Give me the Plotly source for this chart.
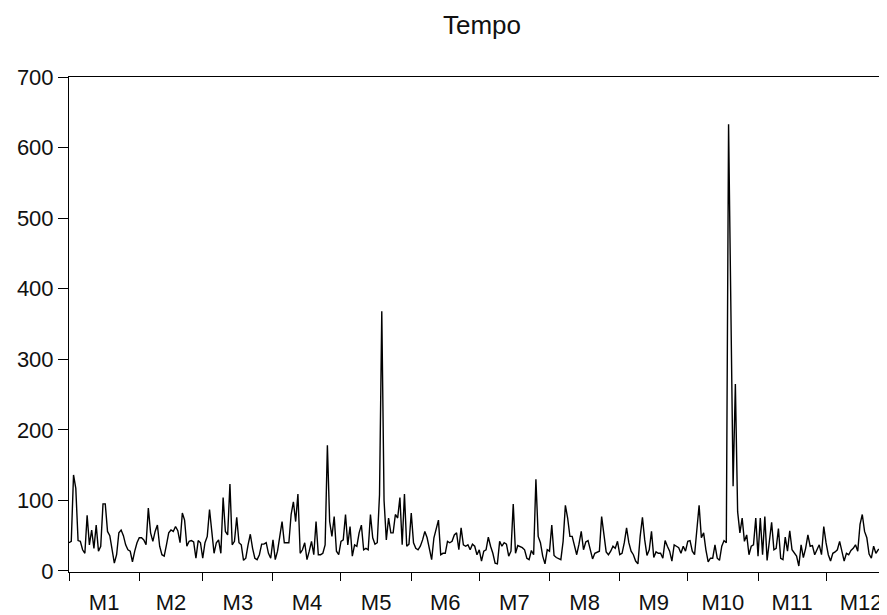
import numpy as np
import plotly.graph_objects as go

month_labels = ["M1", "M2", "M3", "M4", "M5", "M6", "M7", "M8", "M9", "M10", "M11", "M12"]
month_days = [31, 28, 31, 30, 31, 30, 31, 31, 30, 31, 30, 31]

tempo = [
    # M1 / M2 (days 0-60)
    40, 42, 136, 117, 43, 42, 30, 25, 79, 37, 58, 32, 65, 28, 35, 95, 95, 56, 50, 28,
    11, 23, 54, 58, 50, 37, 30, 28, 13, 28, 40, 47, 47, 44, 37, 89, 54, 42, 56, 65,
    35, 23, 21, 37, 54, 58, 56, 63, 57, 40, 82, 72, 35, 42, 43, 41, 18, 43, 40, 18,
    40,
    # days 61-120
    49, 87, 56, 25, 40, 44, 25, 104, 56, 51, 123, 37, 42, 76, 40, 37, 15, 18, 37, 52,
    32, 18, 16, 23, 38, 38, 40, 25, 18, 44, 16, 28, 49, 70, 40, 40, 40, 80, 98, 70,
    109, 25, 30, 40, 16, 28, 42, 23, 70, 23, 23, 25, 37, 178, 70, 49, 77, 28, 23, 42,
    # days 121-182
    44, 80, 37, 63, 21, 37, 35, 54, 65, 30, 32, 30, 80, 47, 38, 40, 108, 368, 100, 44,
    75, 54, 54, 80, 75, 104, 37, 109, 35, 38, 82, 40, 32, 30, 35, 44, 56, 47, 30, 16,
    47, 61, 72, 23, 25, 25, 42, 40, 42, 51, 54, 30, 61, 37, 35, 37, 30, 38, 35, 23,
    30, 14,
    # days 183-243
    28, 30, 48, 35, 25, 11, 10, 42, 35, 40, 38, 21, 28, 95, 25, 36, 35, 33, 30, 18,
    16, 29, 23, 130, 49, 40, 21, 10, 30, 28, 65, 22, 19, 18, 16, 42, 93, 75, 49, 49,
    37, 23, 38, 56, 30, 41, 43, 28, 17, 25, 27, 28, 77, 54, 27, 23, 28, 35, 32, 42,
    23,
    # days 244-302
    25, 40, 61, 40, 28, 23, 14, 10, 49, 76, 44, 22, 30, 56, 19, 27, 25, 25, 18, 43,
    35, 28, 14, 37, 35, 33, 25, 35, 28, 42, 43, 28, 23, 61, 93, 47, 54, 30, 13, 18,
    18, 37, 18, 15, 35, 43, 40, 633, 380, 120, 265, 84, 54, 75, 42, 51, 23, 35, 37,
    # days 303-360
    75, 21, 75, 23, 77, 15, 47, 69, 30, 32, 60, 18, 16, 48, 28, 57, 30, 25, 21, 7,
    37, 19, 32, 51, 35, 36, 23, 30, 37, 23, 63, 40, 23, 14, 25, 27, 30, 42, 28, 14,
    25, 23, 29, 32, 37, 28, 66, 80, 56, 47, 24, 18, 35, 25, 30, 32, 51, 55,
]

y_ticks = [0, 100, 200, 300, 400, 500, 600, 700]

bounds = np.concatenate([[0], np.cumsum(month_days)])
mids = (bounds[:-1] + bounds[1:]) / 2.0
day = np.arange(len(tempo))

font_family = "Liberation Sans, Arial, sans-serif"
x_range = [0, 360.9]

# the page body adds an 8px offset; figure sized so it ends at the window edge
W, H = 879, 607
ML, MT, MB = 61, 69, 41

fig = go.Figure()
fig.add_trace(go.Scatter(
    x=day, y=tempo, mode="lines",
    line=dict(color="#000000", width=1.4),
    xaxis="x", yaxis="y", showlegend=False, hoverinfo="skip",
))
fig.add_trace(go.Scatter(
    x=mids, y=[0] * len(mids), mode="markers",
    marker=dict(opacity=0, size=1),
    xaxis="x2", yaxis="y", showlegend=False, hoverinfo="skip",
))

fig.update_layout(
    width=W, height=H,
    margin=dict(l=ML, r=0, t=MT, b=MB, pad=0),
    paper_bgcolor="white", plot_bgcolor="white",
    font=dict(family=font_family, color="#111111"),
    title=dict(text="Tempo", xref="container", x=474 / W, xanchor="center",
               yref="container", y=1 - 17 / H, yanchor="middle",
               font=dict(size=26, color="#111111", family=font_family)),
    xaxis=dict(
        range=x_range, tickmode="array", tickvals=list(bounds[:-1]),
        showticklabels=False, ticks="outside", ticklen=8, tickcolor="black", tickwidth=1,
        showline=True, linecolor="black", linewidth=1, mirror=True,
        showgrid=False, zeroline=False,
    ),
    xaxis2=dict(
        overlaying="x", matches="x", side="bottom", range=x_range,
        tickmode="array", tickvals=list(mids), ticktext=month_labels,
        ticks="outside", ticklen=11, tickcolor="rgba(0,0,0,0)",
        tickfont=dict(size=22, color="#111111"),
        showline=False, showgrid=False, zeroline=False,
    ),
    yaxis=dict(
        range=[-1.5, 700], tickmode="array", tickvals=y_ticks,
        ticks="outside", ticklen=10, tickcolor="black", tickwidth=1,
        tickfont=dict(size=22, color="#111111"),
        showline=True, linecolor="black", linewidth=1,
        showgrid=False, zeroline=False,
    ),
)

fig.write_html("out.html")
